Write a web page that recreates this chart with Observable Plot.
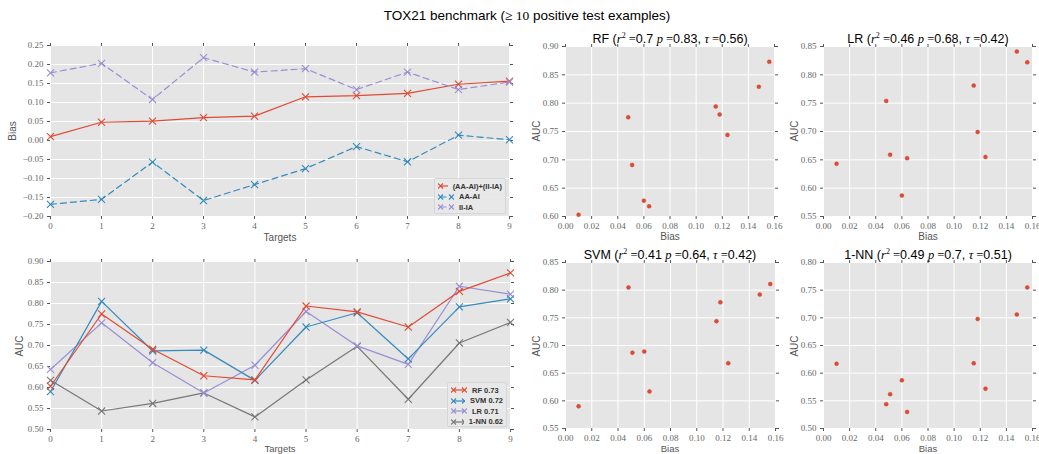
<!DOCTYPE html>
<html><head><meta charset="utf-8">
<script src="https://cdn.jsdelivr.net/npm/d3@7"></script>
<script src="https://cdn.jsdelivr.net/npm/@observablehq/plot@0.6"></script>
<style>
html,body{margin:0;padding:0;background:#fff}
#root{position:relative;width:1039px;height:454px;overflow:hidden;font-family:"Liberation Sans",Arial,sans-serif}
.panel{position:absolute}
.panel svg{overflow:visible;display:block}
.lbl{position:absolute;font-size:10px;line-height:1;color:#555;white-space:nowrap;transform:translate(-50%,-50%)}
.ttl{position:absolute;font-size:12.5px;color:#000;white-space:nowrap;transform:translate(-50%,-50%)}
.m{font-family:"Liberation Serif","DejaVu Serif",serif}
.legend{position:absolute;background:rgba(232,232,232,0.9);border:1px solid #d6d6d6;border-radius:2px;box-sizing:border-box;padding:2px 3px}
.legend .row{display:flex;align-items:center;height:10.5px;font-size:7.5px;font-weight:bold;color:#333;white-space:nowrap}
.legend svg{margin-right:5px}
</style></head>
<body><div id="root"></div>
<script>
// ---------------- data ----------------
const targets = [0, 1, 2, 3, 4, 5, 6, 7, 8, 9];
const bias  = [0.010, 0.048, 0.051, 0.060, 0.064, 0.115, 0.118, 0.124, 0.148, 0.156];
const aaAi  = [-0.168, -0.155, -0.057, -0.158, -0.116, -0.074, -0.016, -0.056, 0.014, 0.002];
const iiIa  = [0.178, 0.203, 0.108, 0.218, 0.180, 0.189, 0.134, 0.180, 0.134, 0.154];
const aucRF  = [0.603, 0.775, 0.691, 0.628, 0.618, 0.794, 0.780, 0.744, 0.829, 0.873];
const aucSVM = [0.590, 0.805, 0.687, 0.689, 0.617, 0.744, 0.778, 0.668, 0.792, 0.811];
const aucLR  = [0.643, 0.754, 0.659, 0.587, 0.653, 0.781, 0.699, 0.655, 0.841, 0.822];
const aucNN  = [0.617, 0.544, 0.562, 0.587, 0.530, 0.618, 0.698, 0.572, 0.706, 0.755];

const biasSeriesNames = ["(AA-AI)+(II-IA)", "AA-AI", "II-IA"];
const methodNames = ["RF", "SVM", "LR", "1-NN"];
const methodMeanAUC = ["0.73", "0.72", "0.71", "0.62"];
const statR2  = {RF: "0.7",  LR: "0.46", SVM: "0.41", "1-NN": "0.49"};
const statP   = {RF: "0.83", LR: "0.68", SVM: "0.64", "1-NN": "0.7"};
const statTau = {RF: "0.56", LR: "0.42", SVM: "0.42", "1-NN": "0.51"};

const targetTicks = [0, 1, 2, 3, 4, 5, 6, 7, 8, 9];
const biasTicks = [-0.20, -0.15, -0.10, -0.05, 0.00, 0.05, 0.10, 0.15, 0.20, 0.25];
const aucTicksLine = [0.50, 0.55, 0.60, 0.65, 0.70, 0.75, 0.80, 0.85, 0.90];
const scatterXTicks = [0.00, 0.02, 0.04, 0.06, 0.08, 0.10, 0.12, 0.14, 0.16];
const aucTicksRF  = [0.60, 0.65, 0.70, 0.75, 0.80, 0.85, 0.90];
const aucTicksLR  = [0.55, 0.60, 0.65, 0.70, 0.75, 0.80, 0.85];
const aucTicksSVM = [0.55, 0.60, 0.65, 0.70, 0.75, 0.80, 0.85];
const aucTicksNN  = [0.50, 0.55, 0.60, 0.65, 0.70, 0.75, 0.80];

const RED = "#E24A33", BLUE = "#348ABD", PURPLE = "#988ED5", GRAY = "#777777";

// ---------------- helpers ----------------
const root = document.getElementById("root");
const f2 = d3.format(".2f");

function place(el, left, top) {
  el.style.left = left + "px"; el.style.top = top + "px"; root.appendChild(el);
}
function label(text, x, y, rotate, size) {
  const d = document.createElement("div");
  d.className = "lbl"; d.textContent = text;
  if (size) d.style.fontSize = size + "px";
  if (rotate) d.style.transform = "translate(-50%,-50%) rotate(-90deg)";
  place(d, x, y);
}
function frameMarks(xTicks, yTicks, xFmt, yFmt) {
  const ax = {tickSize: 3, tickPadding: 3, label: null, stroke: "#555", fill: "#666"};
  return [
    Plot.frame({fill: "#E5E5E5", stroke: "none"}),
    Plot.gridX(xTicks, {stroke: "#fff", strokeOpacity: 1, strokeWidth: 1}),
    Plot.gridY(yTicks, {stroke: "#fff", strokeOpacity: 1, strokeWidth: 1}),
    Plot.axisX(xTicks, {...ax, anchor: "bottom", tickFormat: xFmt}),
    Plot.axisX(xTicks, {...ax, anchor: "top", tickFormat: () => ""}),
    Plot.axisY(yTicks, {...ax, anchor: "left", tickPadding: 4, tickFormat: yFmt}),
    Plot.axisY(yTicks, {...ax, anchor: "right", tickFormat: () => ""})
  ];
}
function panel(box, xDomain, yDomain, xTicks, yTicks, xFmt, yFmt, marks) {
  const svg = Plot.plot({
    width: box.w, height: box.h,
    marginLeft: box.ml, marginRight: box.mr, marginTop: box.mt, marginBottom: box.mb,
    style: {background: "transparent", fontFamily: "'Liberation Serif', serif", fontSize: "9px", color: "#555", overflow: "visible"},
    x: {domain: xDomain},
    y: {domain: yDomain},
    marks: [...frameMarks(xTicks, yTicks, xFmt, yFmt), ...marks]
  });
  const d = document.createElement("div");
  d.className = "panel"; d.appendChild(svg);
  place(d, box.x, box.y);
}
function legend(items, left, top, width, height) {
  const L = document.createElement("div");
  L.className = "legend"; L.style.width = width + "px"; L.style.height = height + "px";
  items.forEach(it => {
    const row = document.createElement("div"); row.className = "row";
    const s = d3.create("svg").attr("width", 16).attr("height", 8);
    s.append("line").attr("x1", 2.5).attr("x2", 13.5).attr("y1", 4).attr("y2", 4)
      .attr("stroke", it.color).attr("stroke-width", 1.2).attr("stroke-dasharray", it.dash || null);
    [2.5, 13.5].forEach(cx => s.append("path")
      .attr("d", `M${cx-2.5},1.5L${cx+2.5},6.5M${cx-2.5},6.5L${cx+2.5},1.5`)
      .attr("stroke", it.color).attr("stroke-width", 1.1).attr("fill", "none"));
    row.appendChild(s.node());
    const t = document.createElement("span"); t.textContent = it.name; row.appendChild(t);
    L.appendChild(row);
  });
  place(L, left, top);
}

// ---------------- main title ----------------
{
  const t = document.createElement("div");
  t.className = "ttl"; t.style.fontSize = "13.5px";
  t.innerHTML = 'TOX21 benchmark (<span class="m">&ge; 10</span> positive test examples)';
  place(t, 527, 16);
}

// ---------------- top-left: bias lines ----------------
const biasRows = targets.flatMap((t, i) => [
  {target: t, value: bias[i], series: biasSeriesNames[0]},
  {target: t, value: aaAi[i], series: biasSeriesNames[1]},
  {target: t, value: iiIa[i], series: biasSeriesNames[2]}
]);
const biasStyle = {
  [biasSeriesNames[0]]: {color: RED, dash: null},
  [biasSeriesNames[1]]: {color: BLUE, dash: "6,4"},
  [biasSeriesNames[2]]: {color: PURPLE, dash: "6,4"}
};
const biasMarks = biasSeriesNames.flatMap(name => {
  const rows = biasRows.filter(r => r.series === name);
  const st = biasStyle[name];
  return [
    Plot.line(rows, {x: "target", y: "value", stroke: st.color, strokeWidth: 1.2, strokeDasharray: st.dash}),
    Plot.dot(rows, {x: "target", y: "value", symbol: "times", r: 3.3, stroke: st.color, strokeWidth: 1.1})
  ];
});
panel({x: 0, y: 30, w: 525, h: 220, ml: 50, mr: 16, mt: 15, mb: 34},
  [0, 9], [-0.20, 0.25], targetTicks, biasTicks, d3.format("d"), f2, biasMarks);
label("Bias", 13, 131, true);
label("Targets", 280, 238);
legend(biasSeriesNames.map(n => ({name: n, color: biasStyle[n].color, dash: biasStyle[n].dash})), 434, 178, 72, 36);

// ---------------- bottom-left: AUC lines ----------------
const aucByMethod = {RF: aucRF, SVM: aucSVM, LR: aucLR, "1-NN": aucNN};
const methodColor = {RF: RED, SVM: BLUE, LR: PURPLE, "1-NN": GRAY};
const aucRows = methodNames.flatMap(m => targets.map((t, i) => ({target: t, auc: aucByMethod[m][i], method: m})));
const aucMarks = methodNames.slice().reverse().flatMap(m => {
  const rows = aucRows.filter(r => r.method === m);
  return [
    Plot.line(rows, {x: "target", y: "auc", stroke: methodColor[m], strokeWidth: 1.2}),
    Plot.dot(rows, {x: "target", y: "auc", symbol: "times", r: 3.3, stroke: methodColor[m], strokeWidth: 1.1})
  ];
});
panel({x: 0, y: 250, w: 525, h: 204, ml: 50, mr: 15, mt: 11, mb: 25},
  [0, 9], [0.50, 0.90], targetTicks, aucTicksLine, d3.format("d"), f2, aucMarks);
label("AUC", 20, 346, true);
label("Targets", 280, 448.5, false, 9.5);
legend(methodNames.map((m, i) => ({name: m + " " + methodMeanAUC[i], color: methodColor[m]})), 447, 382, 60, 45);

// ---------------- scatter panels ----------------
const scatterSpecs = [
  {method: "RF",   yDomain: [0.60, 0.90], yTicks: aucTicksRF,  box: {x: 530, y: 40,  w: 255, h: 200, ml: 35, mr: 11, mt: 6,  mb: 24}, title: [670, 39],  ylab: [537, 131], xlab: [670, 237]},
  {method: "LR",   yDomain: [0.55, 0.85], yTicks: aucTicksLR,  box: {x: 788, y: 40,  w: 251, h: 200, ml: 35, mr: 7,  mt: 6,  mb: 24}, title: [928, 39],  ylab: [795, 131], xlab: [928, 237]},
  {method: "SVM",  yDomain: [0.55, 0.85], yTicks: aucTicksSVM, box: {x: 530, y: 250, w: 255, h: 205, ml: 35, mr: 10, mt: 12, mb: 27}, title: [670, 255], ylab: [537, 346], xlab: [670, 448.5]},
  {method: "1-NN", yDomain: [0.50, 0.80], yTicks: aucTicksNN,  box: {x: 788, y: 250, w: 251, h: 205, ml: 35, mr: 7,  mt: 12, mb: 27}, title: [928, 255], ylab: [795, 346], xlab: [928, 448.5]}
];
scatterSpecs.forEach(s => {
  const rows = targets.map((t, i) => ({bias: bias[i], auc: aucByMethod[s.method][i]}));
  panel(s.box, [0, 0.16], s.yDomain, scatterXTicks, s.yTicks, f2, f2, [
    Plot.dot(rows, {x: "bias", y: "auc", r: 2, fill: RED, stroke: "#c43a25", strokeWidth: 0.4})
  ]);
  const t = document.createElement("div");
  t.className = "ttl";
  t.innerHTML = `${s.method} (<span class="m"><i>r</i><sup style="font-size:8px">2</sup> =</span>${statR2[s.method]} <span class="m"><i>p</i> =</span>${statP[s.method]}, <span class="m"><i>&tau;</i> =</span>${statTau[s.method]})`;
  place(t, s.title[0], s.title[1]);
  label("AUC", s.ylab[0], s.ylab[1], true);
  label("Bias", s.xlab[0], s.xlab[1], false, s.method === "SVM" || s.method === "1-NN" ? 9.5 : null);
});
</script>
</body></html>
